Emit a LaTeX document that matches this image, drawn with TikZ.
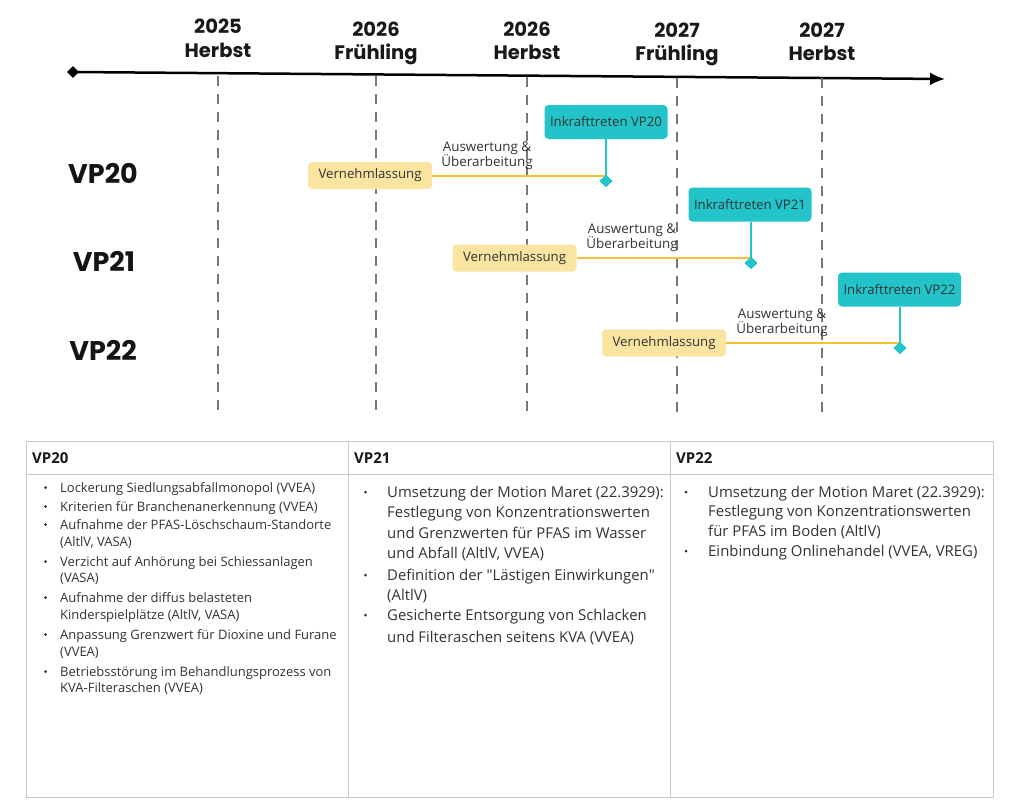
\documentclass[tikz,border=0pt]{standalone}
\usepackage{fontspec}
\setmainfont{Open Sans}
\newfontfamily\pop{Poppins}
\usetikzlibrary{arrows.meta,shapes.geometric}
\definecolor{tealc}{HTML}{22C4C9}
\definecolor{ybox}{HTML}{F9E4A2}
\definecolor{yline}{HTML}{F2C232}
\definecolor{dgray}{HTML}{777777}
\definecolor{tgray}{HTML}{CACACA}
\definecolor{txt}{HTML}{333333}
\begin{document}
\begin{tikzpicture}[x=1pt,y=-1pt,
  yearlab/.style={font=\pop\bfseries\fontsize{19.5}{22}\selectfont, anchor=base, inner sep=0, text=black!90},
  rowlab/.style={font=\pop\bfseries\fontsize{27}{30}\selectfont, anchor=base, inner sep=0, text=black!92},
  vbox/.style={fill=ybox, rounded corners=4pt, minimum width=124pt, minimum height=27pt, inner sep=0,
    font=\fontsize{13.2}{15}\selectfont, text=txt},
  ibox/.style={fill=tealc, rounded corners=4pt, minimum width=123pt, minimum height=34pt, inner sep=0,
    font=\fontsize{13.2}{15}\selectfont, text=txt},
  note/.style={font=\fontsize{13.4}{15.5}\selectfont, align=center, text=txt, inner sep=0},
  vline/.style={dgray, line width=2pt, dash pattern=on 10pt off 8pt},
  ms/.style={diamond, fill=tealc, minimum width=13pt, minimum height=12pt, inner sep=0},
  gline/.style={yline, line width=2pt},
  tline/.style={tealc, line width=2pt},
  tabline/.style={tgray, line width=0.9pt},
  c1/.style={font=\fontsize{13.0}{16}\selectfont, text=txt, anchor=base west, inner sep=0},
  c2/.style={font=\fontsize{14.9}{17}\selectfont, text=txt, anchor=base west, inner sep=0},
  hd/.style={font=\bfseries\fontsize{15}{18}\selectfont, text=black!90, anchor=base west, inner sep=0},
  bul/.style={fill=txt}
]
\useasboundingbox (0,0) rectangle (1024,807);
\fill[white] (0,0) rectangle (1024,807);

% timeline axis
\node[diamond, fill=black, minimum width=12pt, minimum height=12pt, inner sep=0] (ad) at (73,72) {};
\coordinate (aend) at (945,79);
\draw[line width=2.5pt, -{Latex[length=15pt,width=13pt]}] (ad.center) -- (aend);

% dashed guides
\foreach \i/\x/\ya/\yb in {1/218/76/416, 2/376/76/412, 3/527/77/412, 4/677/78/412, 5/822/78/412}{
  \coordinate (gt\i) at (\x,\ya);
  \coordinate (gb\i) at (\x,\yb);
  \draw[vline] (gt\i) -- (gb\i);
}

% year labels
\node[yearlab] (y1a) at (218,33) {2025};
\node[yearlab] (y1b) at (218,57) {Herbst};
\node[yearlab] (y2a) at (376,36) {2026};
\node[yearlab] (y2b) at (376,59) {Frühling};
\node[yearlab] (y3a) at (527,36) {2026};
\node[yearlab] (y3b) at (527,59) {Herbst};
\node[yearlab] (y4a) at (677,37) {2027};
\node[yearlab] (y4b) at (677,60) {Frühling};
\node[yearlab] (y5a) at (822,37) {2027};
\node[yearlab] (y5b) at (822,60) {Herbst};

% row labels
\node[rowlab] (r20) at (103,183) {VP20};
\node[rowlab] (r21) at (104,271) {VP21};
\node[rowlab] (r22) at (103,360) {VP22};

% VP20 row
\node[vbox] (v20) at (370,175.5) {Vernehmlassung};
\node[ms] (m20) at (606,181) {};
\node[ibox] (i20) at (606,122) {Inkrafttreten VP20};
\node[note] (n20) at (487,155.5) {Auswertung \&\\Überarbeitung};
\draw[gline] (v20.east) -- (v20.east -| m20);
\draw[tline] (i20.south) -- (m20.center);
\node[ms] at (m20) {};

% VP21 row
\node[vbox] (v21) at (514.5,258) {Vernehmlassung};
\node[ms] (m21) at (751,263) {};
\node[ibox] (i21) at (750,204.5) {Inkrafttreten VP21};
\node[note] (n21) at (632,237.5) {Auswertung \&\\Überarbeitung};
\draw[gline] (v21.east) -- (v21.east -| m21);
\draw[tline] (i21.south -| m21) -- (m21.center);
\node[ms] at (m21) {};

% VP22 row
\node[vbox] (v22) at (664,343) {Vernehmlassung};
\node[ms] (m22) at (900,348) {};
\node[ibox] (i22) at (899.5,289.5) {Inkrafttreten VP22};
\node[note] (n22) at (782,322.5) {Auswertung \&\\Überarbeitung};
\draw[gline] (v22.east) -- (v22.east -| m22);
\draw[tline] (i22.south -| m22) -- (m22.center);
\node[ms] at (m22) {};

% table frame
\draw[tabline] (26,441) rectangle (993,797);
\draw[tabline] (26,474) -- (993,474);
\draw[tabline] (348,441) -- (348,797);
\draw[tabline] (670,441) -- (670,797);

\node[hd] (h1) at (32,463) {VP20};
\node[hd] (h2) at (354,463) {VP21};
\node[hd] (h3) at (676,463) {VP22};

% column 1
\foreach \k/\yy/\tx in {1/492/{Lockerung Siedlungsabfallmonopol (VVEA)},
  2/511/{Kriterien für Branchenanerkennung (VVEA)},
  3/529/{Aufnahme der PFAS-Löschschaum-Standorte},
  4/546/{(AltlV, VASA)},
  5/566/{Verzicht auf Anhörung bei Schiessanlagen},
  6/582/{(VASA)},
  7/602/{Aufnahme der diffus belasteten},
  8/619/{Kinderspielplätze (AltlV, VASA)},
  9/639/{Anpassung Grenzwert für Dioxine und Furane},
  10/656/{(VVEA)},
  11/676/{Betriebsstörung im Behandlungsprozess von},
  12/692/{KVA-Filteraschen (VVEA)}}{
  \node[c1] (ca\k) at (60,\yy) {\tx};
}
\foreach \yy in {492,511,529,566,602,639,676}{
  \fill[bul] (45.5,\yy-4.5) circle (1.5pt);
}

% column 2
\foreach \k/\yy/\tx in {1/497/{Umsetzung der Motion Maret (22.3929):},
  2/517/{Festlegung von Konzentrationswerten},
  3/538/{und Grenzwerten für PFAS im Wasser},
  4/558/{und Abfall (AltlV, VVEA)},
  5/580/{Definition der \textquotedbl Lästigen Einwirkungen\textquotedbl},
  6/600/{(AltlV)},
  7/620/{Gesicherte Entsorgung von Schlacken},
  8/642/{und Filteraschen seitens KVA (VVEA)}}{
  \node[c2] (cb\k) at (387,\yy) {\tx};
}
\foreach \yy in {497,580,620}{
  \fill[bul] (365.5,\yy-5) circle (1.5pt);
}

% column 3
\foreach \k/\yy/\tx in {1/497/{Umsetzung der Motion Maret (22.3929):},
  2/516/{Festlegung von Konzentrationswerten},
  3/536/{für PFAS im Boden (AltlV)},
  4/556/{Einbindung Onlinehandel (VVEA, VREG)}}{
  \node[c2] (cc\k) at (708,\yy) {\tx};
}
\foreach \yy in {497,556}{
  \fill[bul] (686,\yy-5) circle (1.5pt);
}
\end{tikzpicture}
\end{document}
